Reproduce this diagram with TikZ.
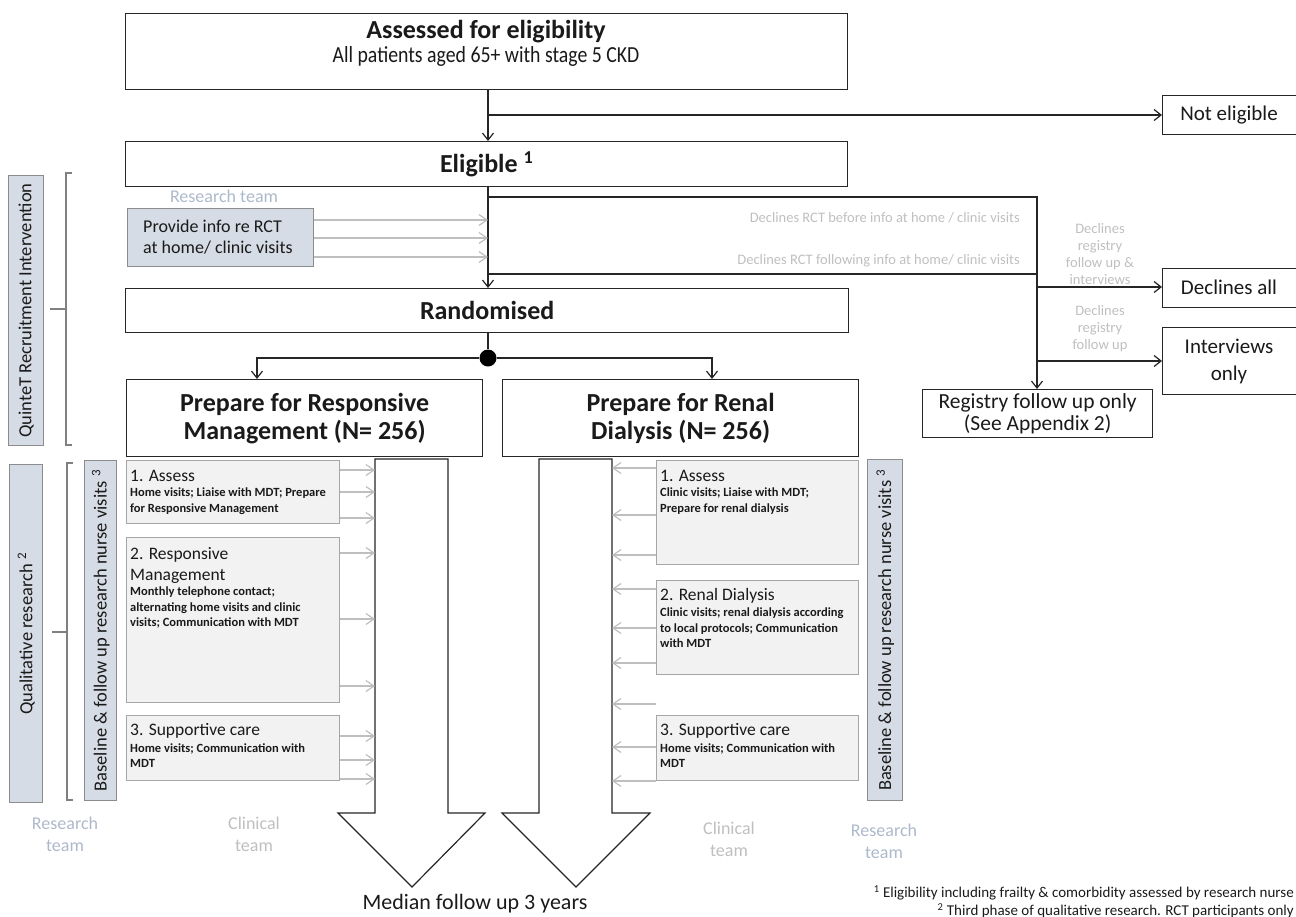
\documentclass[tikz,border=0pt]{standalone}
\usepackage{fontspec}
\setmainfont{Carlito}
\newfontfamily\condfont[FakeStretch=0.86]{Carlito}
\usetikzlibrary{arrows.meta}
\definecolor{bluefill}{HTML}{D6DCE5}
\definecolor{bluedraw}{HTML}{8C8C8C}
\definecolor{grayfill}{HTML}{F2F2F2}
\definecolor{graydraw}{HTML}{A6A6A6}
\definecolor{teamblue}{HTML}{ADB9CA}
\definecolor{softgray}{HTML}{BFBFBF}
\definecolor{inkdark}{HTML}{262626}
\definecolor{textdark}{HTML}{1A1A1A}
\newcommand{\myfs}[2]{\fontsize{#1}{#2}\selectfont}
\begin{document}
\begin{tikzpicture}[x=1pt,y=-1pt,
  mainbox/.style={draw=inkdark, line width=1.3pt, fill=white, inner sep=0pt, anchor=north west, text=textdark, align=center},
  bluebox/.style={draw=bluedraw, line width=1.4pt, fill=bluefill, inner sep=0pt, anchor=north west},
  graybox/.style={draw=graydraw, line width=1.4pt, fill=grayfill, inner sep=0pt, anchor=north west},
  plain/.style={inner sep=0pt, align=center, text=textdark, font=\myfs{21}{25}},
  ttl/.style={inner sep=0pt, align=center, text=textdark, font=\bfseries\myfs{26}{28}},
  rotlabel/.style={inner sep=0pt, rotate=90, text=textdark, font=\myfs{18.5}{22}},
  gtitle/.style={inner sep=0pt, anchor=west, align=left, text=textdark, font=\myfs{17.5}{21}},
  gbody/.style={inner sep=0pt, anchor=north west, align=left, text=textdark, font=\bfseries\myfs{12.5}{15.5}},
  graylabel/.style={inner sep=0pt, align=center, text=softgray, font=\myfs{14.5}{17}},
  teamlabel/.style={inner sep=0pt, align=center, font=\myfs{18}{22}},
  conn/.style={draw=inkdark, line width=1.2pt},
  arr/.style={conn, -{Straight Barb[length=7pt,width=11pt]}},
  garr/.style={draw=softgray, line width=1.2pt, -{Straight Barb[length=8pt,width=11pt]}},
  bigarrow/.style={draw=inkdark, line width=1.2pt, fill=white},
  bracket/.style={draw=gray, line width=1.5pt},
]
\useasboundingbox (0,0) rectangle (1296,916);

% ---------- top part ----------
\node[mainbox, minimum width=722, minimum height=76] (assess) at (125,13) {};
\node[ttl] (assessT) at (486,32) {Assessed for eligibility};
\node[plain, font=\condfont\myfs{23}{25}] (assessS) at (486,56) {All patients aged 65+ with stage 5 CKD};

\node[mainbox, minimum width=140, minimum height=39] (noteli) at (1162,95) {};
\node[plain] (noteliT) at (1229,115) {Not eligible};

\node[mainbox, minimum width=722, minimum height=45, font=\bfseries\myfs{26}{28}] (elig) at (125,141) {Eligible \textsuperscript{1}};

\node[mainbox, minimum width=723, minimum height=44, font=\bfseries\myfs{26}{28}] (rand) at (125,288) {Randomised};

\node[mainbox, minimum width=356, minimum height=77, font=\bfseries\myfs{26}{28}] (prepL) at (126,379) {Prepare for Responsive\\Management (N= 256)};
\node[mainbox, minimum width=356, minimum height=77, font=\bfseries\myfs{26}{28}] (prepR) at (502,379) {Prepare for Renal\\Dialysis (N= 256)};

\node[mainbox, minimum width=230, minimum height=48, font=\myfs{21.5}{21.5}] (reg) at (922,389) {Registry follow up only\\(See Appendix 2)};
\node[mainbox, minimum width=140, minimum height=39] (decl) at (1162,268) {};
\node[plain] (declT) at (1229,287) {Declines all};
\node[mainbox, minimum width=140, minimum height=67] (intv) at (1162,327) {};
\node[plain, font=\myfs{21}{27}] (intvT) at (1229,361) {Interviews\\only};

% ---------- connectors top ----------
\coordinate (vx) at (488,0);
\coordinate (b1) at (488,115);
\coordinate (t1) at (488,197);
\coordinate (t2) at (488,274);
\coordinate (rx) at (1037,197);
\coordinate (da) at (1037,287);
\coordinate (io) at (1037,361);
\draw[arr] (assess.south -| vx) -- (elig.north -| vx);
\draw[arr] (b1) -- (b1 -| noteli.west);
\draw[arr] (elig.south -| vx) -- (rand.north -| vx);
\draw[arr] (t1) -- (rx) -- (rx |- reg.north);
\draw[conn] (t2) -- (t2 -| rx);
\draw[arr] (da) -- (da -| decl.west);
\draw[arr] (io) -- (io -| intv.west);

\node[graylabel, anchor=east] (dec1) at (1020,218) {Declines RCT before info at home / clinic visits};
\node[graylabel, anchor=east] (dec2) at (1020,261) {Declines RCT following info at home/ clinic visits};
\node[graylabel] (dec3) at (1100,254) {Declines\\registry\\follow up \&\\interviews};
\node[graylabel] (dec4) at (1100,329) {Declines\\registry\\follow up};

% ---------- randomisation split ----------
\node[circle, fill=black, minimum size=17pt, inner sep=0pt] (dot) at (488,358) {};
\coordinate (lx) at (257,358);
\coordinate (rx2) at (712,358);
\draw[conn] (rand.south -| vx) -- (dot);
\draw[arr] (dot.west) -- (lx) -- (lx |- prepL.north);
\draw[arr] (dot.east) -- (rx2) -- (rx2 |- prepR.north);

% ---------- recruitment intervention ----------
\node[teamlabel, text=teamblue] (rteam) at (224,196) {Research team};
\node[bluebox, minimum width=186, minimum height=58] (prov) at (127,208) {};
\node[plain, anchor=west, align=left, font=\myfs{18}{21}] (provT) at (143,237) {Provide info re RCT\\at home/ clinic visits};
\foreach \yy in {220,238,257} \draw[garr] (prov.east |- 0,\yy) -- (vx |- 0,\yy);

\node[bluebox, minimum width=35, minimum height=270] (quintet) at (8,175) {};
\node[rotlabel] (quintetT) at (quintet.center) {QuinteT Recruitment Intervention};
\draw[bracket] (72,173) -- (66,173) -- (66,445) -- (72,445);
\draw[bracket] (50,309) -- (66,309);

% ---------- qualitative / baseline ----------
\node[bluebox, minimum width=33, minimum height=338] (qual) at (9,464) {};
\node[rotlabel] (qualT) at (qual.center) {Qualitative research \textsuperscript{2}};
\draw[bracket] (73,463) -- (67,463) -- (67,800) -- (73,800);
\draw[bracket] (52,632) -- (67,632);
\node[bluebox, minimum width=32, minimum height=340] (baseL) at (84,460) {};
\node[rotlabel] (baseLT) at (baseL.center) {Baseline \& follow up research nurse visits \textsuperscript{3}};
\node[bluebox, minimum width=35, minimum height=341] (baseR) at (867,459) {};
\node[rotlabel] (baseRT) at (baseR.center) {Baseline \& follow up research nurse visits \textsuperscript{3}};

% ---------- big arrows ----------
\draw[bigarrow] (375,459) -- (448,459) -- (448,813) -- (485,813) -- (412,887) -- (338,813) -- (375,813) -- cycle;
\draw[bigarrow] (539,459) -- (612,459) -- (612,813) -- (650,813) -- (576,887) -- (502,813) -- (539,813) -- cycle;
\coordinate (shL) at (375,0);
\coordinate (shR) at (612,0);

% ---------- left care boxes ----------
\node[graybox, minimum width=213, minimum height=63] (g1L) at (126,460) {};
\node[graybox, minimum width=213, minimum height=165] (g2L) at (126,537) {};
\node[graybox, minimum width=213, minimum height=65] (g3L) at (126,715) {};
\node[gtitle] (t1L) at (130,476) {1. Assess};
\node[gbody] (b1L) at (130,488) {Home visits; Liaise with MDT; Prepare\\for Responsive Management};
\node[gtitle, anchor=north west] (t2L) at (130,547) {2. Responsive\\Management};
\node[gbody] (b2L) at (130,587) {Monthly telephone contact;\\alternating home visits and clinic\\visits; Communication with MDT};
\node[gtitle] (t3L) at (130,731) {3. Supportive care};
\node[gbody] (b3L) at (130,743) {Home visits; Communication with\\MDT};
\foreach \yy in {470,492,518} \draw[garr] (g1L.east |- 0,\yy) -- (shL |- 0,\yy);
\foreach \yy in {553,619,686} \draw[garr] (g2L.east |- 0,\yy) -- (shL |- 0,\yy);
\foreach \yy in {736,760,779} \draw[garr] (g3L.east |- 0,\yy) -- (shL |- 0,\yy);

% ---------- right care boxes ----------
\node[graybox, minimum width=202, minimum height=104] (g1R) at (656,460) {};
\node[graybox, minimum width=202, minimum height=94] (g2R) at (656,580) {};
\node[graybox, minimum width=202, minimum height=65] (g3R) at (656,715) {};
\node[gtitle] (t1R) at (660,476) {1. Assess};
\node[gbody] (b1R) at (660,488) {Clinic visits; Liaise with MDT;\\Prepare for renal dialysis};
\node[gtitle] (t2R) at (660,596) {2. Renal Dialysis};
\node[gbody] (b2R) at (660,608) {Clinic visits; renal dialysis according\\to local protocols; Communication\\with MDT};
\node[gtitle] (t3R) at (660,731) {3. Supportive care};
\node[gbody] (b3R) at (660,743) {Home visits; Communication with\\MDT};
\coordinate (freeR) at (656,704);
\foreach \yy in {468,515,555} \draw[garr] (g1R.west |- 0,\yy) -- (shR |- 0,\yy);
\foreach \yy in {589,628,663} \draw[garr] (g2R.west |- 0,\yy) -- (shR |- 0,\yy);
\draw[garr] (freeR) -- (shR |- freeR);
\foreach \yy in {747,781} \draw[garr] (g3R.west |- 0,\yy) -- (shR |- 0,\yy);

% ---------- bottom labels ----------
\node[teamlabel, text=teamblue] (rteamL) at (65,834) {Research\\team};
\node[teamlabel, text=softgray] (cteamL) at (254,834) {Clinical\\team};
\node[teamlabel, text=softgray] (cteamR) at (729,839) {Clinical\\team};
\node[teamlabel, text=teamblue] (rteamR) at (884,841) {Research\\team};
\node[plain, font=\myfs{22}{26}] (median) at (475,904) {Median follow up 3 years};
\node[plain, anchor=east, font=\myfs{15}{18}] (fn1) at (1294,893) {\textsuperscript{1} Eligibility including frailty \& comorbidity assessed by research nurse};
\node[plain, anchor=east, font=\myfs{15}{18}] (fn2) at (1294,911) {\textsuperscript{2} Third phase of qualitative research. RCT participants only};
\end{tikzpicture}
\end{document}
